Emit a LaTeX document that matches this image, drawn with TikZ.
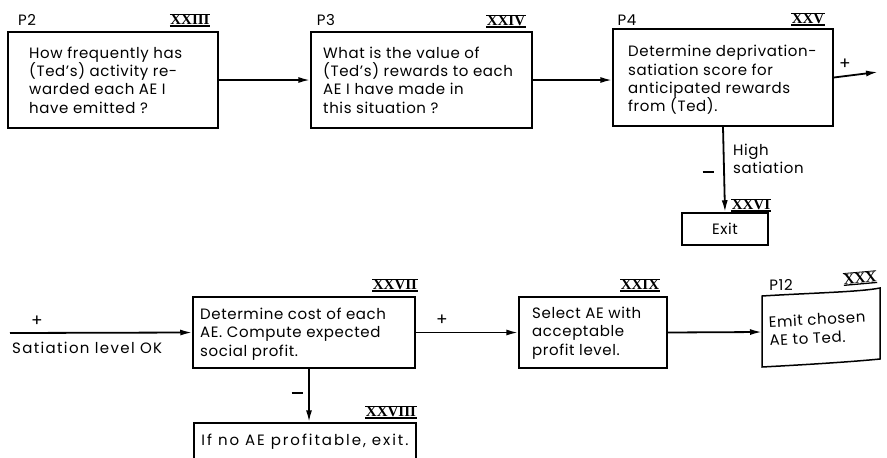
\documentclass[tikz,border=0pt]{standalone}
\usepackage{fontspec}
\setmainfont{Poppins}[LetterSpace=4]
\newfontfamily\numfont{Liberation Serif}
\newfontfamily\widefont{Poppins}[LetterSpace=13]
\newfontfamily\midfont{Poppins}[LetterSpace=9]
\usetikzlibrary{arrows.meta}
\tikzset{
  box/.style={draw, line width=1.5pt, inner sep=0pt},
  txt/.style={font=\fontsize{15}{18.4}\selectfont, align=left, inner sep=0pt},
  lbl/.style={font=\fontsize{15}{17}\selectfont, inner sep=0pt},
  sign/.style={font=\fontsize{17}{17}\selectfont, inner sep=0pt},
  rnum/.style={font=\numfont\bfseries\fontsize{15}{15}\selectfont, inner xsep=0.3pt, inner ysep=0.8pt,
    text height=9.8pt, text depth=0pt,
    append after command={
      (\tikzlastnode.south west) edge[draw, line width=1.3pt] (\tikzlastnode.south east)
      (\tikzlastnode.north west) edge[draw, line width=0.8pt] (\tikzlastnode.north east)}},
  flow/.style={line width=1.8pt, -{Latex[length=12pt,width=6pt]}},
}
\newcommand\minussign{\rule{11pt}{1.3pt}}
\begin{document}
\begin{tikzpicture}[x=1pt,y=-1pt]
\clip (0,0) rectangle (887,458);

% ---- upper row ----
\node[box, minimum width=210pt, minimum height=96pt] (p2) at (113,80) {};
\node[txt, anchor=west] (p2t) at (29,80) {How frequently has\\(Ted's) activity re-\\warded each AE I\\have emitted ?};
\node[lbl] (p2l) at (27,20) {P2};
\node[rnum] (n23) at (190,20) {XXIII};

\node[box, minimum width=221pt, minimum height=96pt] (p3) at (421.5,80) {};
\node[txt, anchor=west] (p3t) at (323,80) {What is the value of\\(Ted's) rewards to each\\AE I have made in\\this situation ?};
\node[lbl] (p3l) at (326,20) {P3};
\node[rnum] (n24) at (506,21) {XXIV};

\node[box, minimum width=220pt, minimum height=97pt] (p4) at (723,77.5) {};
\node[txt, anchor=west] (p4t) at (628,80) {Determine deprivation-\\satiation score for\\anticipated rewards\\from (Ted).};
\node[lbl] (p4l) at (627,20) {P4};
\node[rnum] (n25) at (808,19) {XXV};

\node[box, minimum width=86pt, minimum height=32pt] (exit) at (725,229) {};
\node[lbl] (exitt) at (725,229) {Exit};
\node[rnum] (n26) at (751,205) {XXVI};

\draw[flow] (p2.east) -- (p3.west);
\draw[flow] (p3.east) -- (p3.east -| p4.west);
\coordinate (p4out) at (878,72);
\draw[flow] (p4.east) -- (p4out);
\node[sign] (plus1) at (845,64) {+};
\draw[flow] (p4.south) -- (exit.north);
\node[txt, anchor=west] (sat) at (733,159) {High\\satiation};
\node[inner sep=0pt] (minus1) at (708,172) {\minussign};

% ---- lower row ----
\coordinate (in) at (10,333);
\node[sign] (plus2) at (37,321) {+};
\node[lbl, anchor=west, font=\midfont\fontsize{15}{17}\selectfont] (ok) at (12,348) {Satiation level OK};

\node[box, minimum width=222pt, minimum height=71pt] (c27) at (304,332.5) {};
\node[txt, anchor=west] (c27t) at (200,334) {Determine cost of each\\AE. Compute expected\\social profit.};
\node[rnum] (n27) at (395,285) {XXVII};

\node[box, minimum width=222pt, minimum height=60pt] (c28) at (305,453) {};
\node[lbl, font=\widefont\fontsize{15}{17}\selectfont] (c28t) at (305,442) {If no AE profitable, exit.};
\node[rnum] (n28) at (391,412) {XXVIII};

\node[box, minimum width=148pt, minimum height=71pt] (c29) at (593,332.5) {};
\node[txt, anchor=west] (c29t) at (532,333) {Select AE with\\acceptable\\profit level.};
\node[rnum] (n29) at (640,285) {XXIX};

% slanted card for P12
\draw[line width=1.5pt] (762,296) .. controls (810,293) and (860,292) .. (880,288)
  -- (880,359) .. controls (850,362) and (800,365) .. (762,367) -- cycle;
\coordinate (p12w) at (762,332);
\node[txt, anchor=west, rotate=3] (p12t) at (769,331) {Emit chosen\\AE to Ted.};
\node[lbl] (p12l) at (781,285) {P12};
\node[rnum, rotate=5] (n30) at (860,278) {XXX};

\coordinate (dx) at (309,0);
\draw[flow] (in) -- (c27.west);
\draw[flow] (c27.east) -- (c29.west);
\node[sign] (plus3) at (442,320) {+};
\draw[flow] (c27.south -| dx) -- (c28.north -| dx);
\node[inner sep=0pt] (minus2) at (297,393) {\minussign};
\draw[flow] (c29.east) -- (p12w);
\end{tikzpicture}
\end{document}
